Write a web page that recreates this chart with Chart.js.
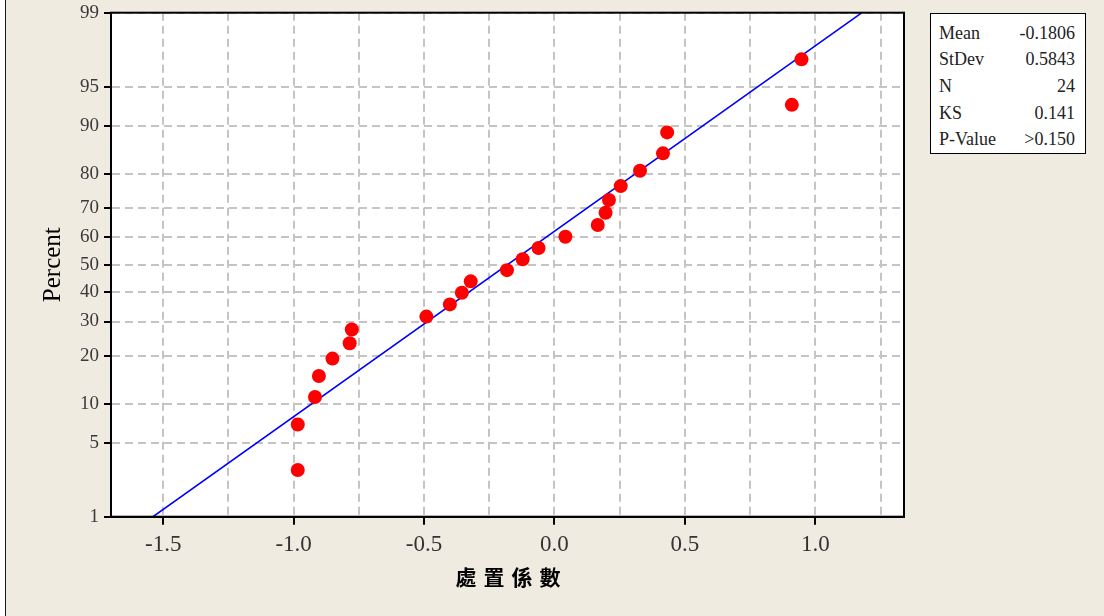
<!DOCTYPE html>
<html>
<head>
<meta charset="utf-8">
<script src="https://cdn.jsdelivr.net/npm/chart.js@4.4.1/dist/chart.umd.min.js"></script>
<style>
  html, body { margin: 0; padding: 0; background: #ffffff; }
  #wrap { position: absolute; left: 0; top: 0; width: 1104px; height: 616px; overflow: hidden; }
  #frame { position: absolute; left: 5px; top: 0; width: 1099px; height: 616px; background: #EFEBE1; border-left: 1.5px solid #1a1a1a; box-sizing: border-box; }
  #cv { position: absolute; left: 0; top: 0; }
  #stats { position: absolute; left: 930px; top: 12.5px; width: 156px; height: 141px; box-sizing: border-box;
           border: 1.5px solid #000; background: #ffffff; font-family: "Liberation Serif", "DejaVu Serif", serif;
           font-size: 18px; color: #222; padding-top: 6px; }
  .row { position: relative; height: 26.7px; line-height: 26.7px; }
  .row .k { position: absolute; left: 8px; }
  .row .v { position: absolute; right: 10px; }
</style>
</head>
<body>
<div id="wrap">
  <div id="frame"></div>
  <canvas id="cv" width="1104" height="616"></canvas>
  <div id="stats"></div>
</div>
<script>
// ---- data ----
const xValues = [-0.984, -0.984, -0.918, -0.903, -0.851, -0.785, -0.777, -0.491, -0.401, -0.355,
                 -0.321, -0.182, -0.122, -0.061, 0.042, 0.166, 0.196, 0.209, 0.254, 0.328,
                 0.416, 0.432, 0.910, 0.947];
const percentValues = [2.9, 7.0, 11.1, 15.2, 19.3, 23.4, 27.5, 31.6, 35.7, 39.8,
                       43.9, 48.0, 52.0, 56.1, 60.2, 64.3, 68.4, 72.5, 76.6, 80.7,
                       84.8, 88.9, 93.0, 97.1];
const fitX = [-1.539, 1.179];
const fitPercent = [1, 99];
const yTickValues = [1, 5, 10, 20, 30, 40, 50, 60, 70, 80, 90, 95, 99];
const xTickValues = [-1.5, -1.25, -1.0, -0.75, -0.5, -0.25, 0.0, 0.25, 0.5, 0.75, 1.0, 1.25];
const xLabelledTicks = [-1.5, -1.0, -0.5, 0.0, 0.5, 1.0];
const statLabels = ["Mean", "StDev", "N", "KS", "P-Value"];
const statValues = ["-0.1806", "0.5843", "24", "0.141", ">0.150"];
const xTitle = "處置係數";
const yTitle = "Percent";

// ---- stats box ----
const statsEl = document.getElementById('stats');
statLabels.forEach((k, i) => {
  const r = document.createElement('div'); r.className = 'row';
  const a = document.createElement('span'); a.className = 'k'; a.textContent = k;
  const b = document.createElement('span'); b.className = 'v'; b.textContent = statValues[i];
  r.appendChild(a); r.appendChild(b); statsEl.appendChild(r);
});

// ---- normal probability scale ----
function probit(pct) {
  const q = pct / 100;
  const a=[-3.969683028665376e+01,2.209460984245205e+02,-2.759285104469687e+02,1.383577518672690e+02,-3.066479806614716e+01,2.506628277459239e+00];
  const b=[-5.447609879822406e+01,1.615858368580409e+02,-1.556989798598866e+02,6.680131188771972e+01,-1.328068155288572e+01];
  const c=[-7.784894002430293e-03,-3.223964580411365e-01,-2.400758276357800e+00,-2.549732539343734e+00,4.374664141464968e+00,2.938163982698783e+00];
  const d=[7.784695709041462e-03,3.224671290700398e-01,2.445134137142996e+00,3.754408661907416e+00];
  const pl = 0.02425;
  if (q < pl) { const r = Math.sqrt(-2*Math.log(q)); return (((((c[0]*r+c[1])*r+c[2])*r+c[3])*r+c[4])*r+c[5])/((((d[0]*r+d[1])*r+d[2])*r+d[3])*r+1); }
  if (q > 1 - pl) { const r = Math.sqrt(-2*Math.log(1-q)); return -(((((c[0]*r+c[1])*r+c[2])*r+c[3])*r+c[4])*r+c[5])/((((d[0]*r+d[1])*r+d[2])*r+d[3])*r+1); }
  const r = q - 0.5, s = r*r;
  return (((((a[0]*s+a[1])*s+a[2])*s+a[3])*s+a[4])*s+a[5])*r/(((((b[0]*s+b[1])*s+b[2])*s+b[3])*s+b[4])*s+1);
}

class ProbabilityScale extends Chart.LinearScale {
  determineDataLimits() {
    this.min = probit(this.options.min);
    this.max = probit(this.options.max);
  }
  buildTicks() {
    return yTickValues.map(v => ({ value: v }));
  }
  getPixelForValue(value) {
    if (value === null || value === undefined || isNaN(value)) return NaN;
    return super.getPixelForValue(probit(value));
  }
}
ProbabilityScale.id = 'probability';
ProbabilityScale.defaults = {};
Chart.register(ProbabilityScale);

const framePlugin = {
  id: 'frame',
  afterDatasetsDraw(chart) {
    const { ctx, chartArea: a } = chart;
    ctx.save();
    ctx.strokeStyle = '#000';
    ctx.lineWidth = 2;
    ctx.strokeRect(a.left, a.top, a.right - a.left, a.bottom - a.top);
    ctx.restore();
  }
};

const bgPlugin = {
  id: 'plotbg',
  beforeDraw(chart) {
    const { ctx, chartArea: a } = chart;
    ctx.save();
    ctx.fillStyle = '#ffffff';
    ctx.fillRect(a.left, a.top, a.right - a.left, a.bottom - a.top);
    ctx.restore();
  }
};

// spaced-out x-axis title, like the reference
const titleSpacingPlugin = {
  id: 'titleSpacing',
  afterLayout(chart) {
    const sx = chart.scales.x;
    if (!sx || sx._spacedTitle) return;
    const orig = sx.drawTitle;
    sx.drawTitle = function () {
      const ctx = this.ctx;
      const prev = ctx.letterSpacing;
      ctx.save();
      ctx.translate(4, 0);
      ctx.letterSpacing = '7px';
      orig.apply(this, arguments);
      ctx.restore();
      ctx.letterSpacing = prev || '0px';
    };
    sx._spacedTitle = true;
  }
};

const serif = '"Liberation Serif", "DejaVu Serif", serif';
const gridGray = '#C4C4C4';

new Chart(document.getElementById('cv'), {
  type: 'scatter',
  data: {
    datasets: [
      {
        label: 'data',
        data: xValues.map((x, i) => ({ x: x, y: percentValues[i] })),
        backgroundColor: '#FF0000',
        borderColor: '#FF0000',
        borderWidth: 0,
        pointRadius: 7,
        pointHoverRadius: 7,
        showLine: false
      },
      {
        label: 'fit',
        data: fitX.map((x, i) => ({ x: x, y: fitPercent[i] })),
        borderColor: '#0000FF',
        backgroundColor: '#0000FF',
        borderWidth: 1.6,
        pointRadius: 0,
        showLine: true,
        fill: false
      }
    ]
  },
  options: {
    responsive: false,
    animation: false,
    events: [],
    layout: { padding: { left: 0, top: 12.7, right: 200, bottom: 0 } },
    plugins: { legend: { display: false }, tooltip: { enabled: false } },
    scales: {
      x: {
        type: 'linear',
        min: -1.7,
        max: 1.34,
        afterBuildTicks(scale) { scale.ticks = xTickValues.map(v => ({ value: v })); },
        afterFit(scale) { scale.height = 99.3; },
        ticks: {
          autoSkip: false,
          maxRotation: 0,
          padding: 6,
          color: '#333333',
          font: { family: serif, size: 23 },
          callback(v) { return xLabelledTicks.includes(v) ? v.toFixed(1) : ''; }
        },
        grid: {
          color: gridGray,
          lineWidth: 2,
          drawTicks: true,
          tickLength: 8,
          tickWidth: 2,
          tickBorderDash: [],
          tickColor(ctx) { return ctx.tick && xLabelledTicks.includes(ctx.tick.value) ? '#000000' : 'rgba(0,0,0,0)'; }
        },
        border: { display: true, color: '#000000', width: 2, dash: [8, 5] },
        title: {
          display: true,
          text: xTitle,
          color: '#000000',
          font: { family: '"Noto Sans CJK TC", "Noto Sans CJK SC", sans-serif', size: 21, weight: 'bold' },
          padding: { top: 0, bottom: 26 }
        }
      },
      y: {
        type: 'probability',
        position: 'left',
        min: 1,
        max: 99,
        afterFit(scale) { scale.width = 111; scale.paddingTop = 0; scale.paddingBottom = 0; },
        ticks: {
          autoSkip: false,
          padding: 5,
          color: '#3a3a3a',
          font: { family: serif, size: 19, lineHeight: 1.0 },
          callback(v) { return String(v); }
        },
        grid: {
          color: gridGray,
          lineWidth: 2,
          drawTicks: true,
          tickLength: 7,
          tickWidth: 2,
          tickBorderDash: [],
          tickColor: '#000000'
        },
        border: { display: true, color: '#000000', width: 2, dash: [8, 5] },
        title: {
          display: true,
          text: yTitle,
          color: '#000000',
          font: { family: serif, size: 25 },
          padding: { top: 38, bottom: 0 }
        }
      }
    }
  },
  plugins: [bgPlugin, framePlugin, titleSpacingPlugin]
});
</script>
</body>
</html>
